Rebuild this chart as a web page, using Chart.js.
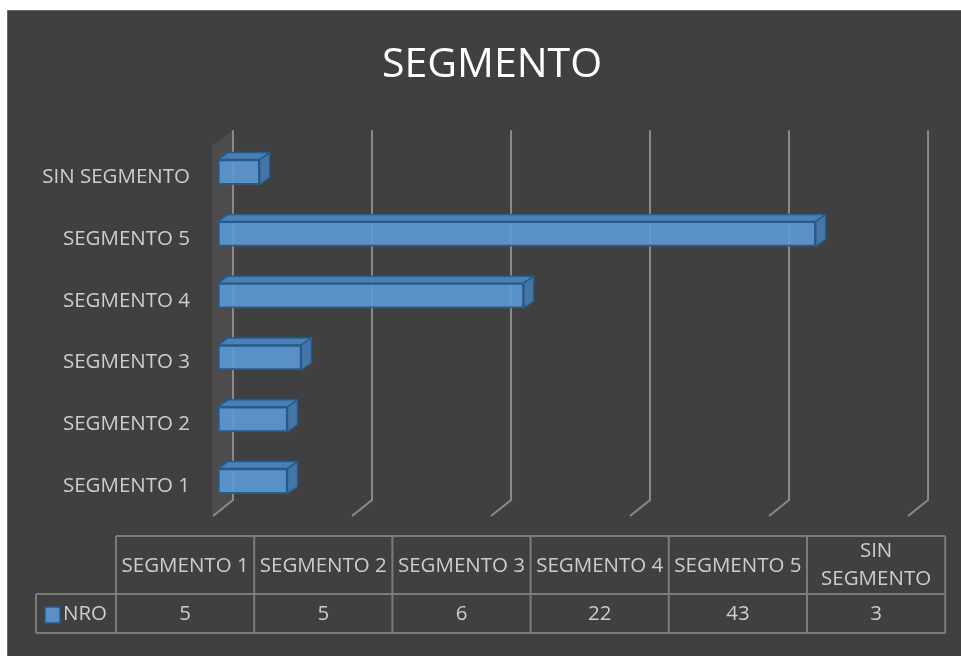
<!DOCTYPE html>
<html>
<head>
<meta charset="utf-8">
<script src="https://cdn.jsdelivr.net/npm/chart.js@4.4.1/dist/chart.umd.min.js"></script>
<style>
  html, body { margin: 0; padding: 0; background: #ffffff; }
</style>
</head>
<body>
<canvas id="segmentoChart" width="961" height="656"></canvas>
<script>
// Datos del gráfico
const categorias = ['SEGMENTO 1', 'SEGMENTO 2', 'SEGMENTO 3', 'SEGMENTO 4', 'SEGMENTO 5', 'SIN SEGMENTO'];
const valoresNro = [5, 5, 6, 22, 43, 3];
const marcasEje = [0, 10, 20, 30, 40, 50];
const nombreSerie = 'NRO';

const fuente = '"Open Sans", "Noto Sans", sans-serif';
const colorTexto = '#cdcdcd';
const azulFrente = 'rgba(92, 153, 212, 0.9)';
const azulBorde = '#285a8a';

// Fondo gris oscuro del área del gráfico
const fondoPlugin = {
  id: 'fondo',
  beforeDraw(chart) {
    const { ctx, width, height } = chart;
    ctx.save();
    ctx.fillStyle = '#ffffff';
    ctx.fillRect(0, 0, width, height);
    ctx.fillStyle = '#404040';
    ctx.fillRect(7, 10, width - 7, height - 10);
    ctx.strokeStyle = '#6a6a6a';
    ctx.lineWidth = 1;
    ctx.beginPath();
    ctx.moveTo(7.5, height);
    ctx.lineTo(7.5, 10.5);
    ctx.lineTo(width, 10.5);
    ctx.stroke();
    ctx.restore();
  }
};

// Pared lateral y líneas de cuadrícula en perspectiva
const paredPlugin = {
  id: 'pared3d',
  beforeDatasetsDraw(chart) {
    const { ctx } = chart;
    const { top, bottom } = chart.chartArea;
    const xs = chart.scales.x;
    const p0 = xs.getPixelForValue(0);
    ctx.save();
    ctx.fillStyle = '#4d4b4b';
    ctx.beginPath();
    ctx.moveTo(p0 - 6, top + 4);
    ctx.lineTo(p0 + 15, top - 11);
    ctx.lineTo(p0 + 15, bottom - 12);
    ctx.lineTo(p0 - 6, bottom + 4);
    ctx.closePath();
    ctx.fill();

    ctx.strokeStyle = '#8a8a8a';
    ctx.lineWidth = 2;
    marcasEje.forEach(v => {
      const p = xs.getPixelForValue(v);
      ctx.beginPath();
      ctx.moveTo(p + 15, top - 11);
      ctx.lineTo(p + 15, bottom - 12);
      ctx.lineTo(p - 5, bottom + 4);
      ctx.stroke();
    });
    ctx.restore();
  }
};

// Caras superior y derecha de cada barra (efecto 3D)
const barras3dPlugin = {
  id: 'barras3d',
  afterDatasetsDraw(chart) {
    const { ctx } = chart;
    const meta = chart.getDatasetMeta(0);
    const dx = 10, dy = -7;
    ctx.save();
    ctx.strokeStyle = azulBorde;
    ctx.lineWidth = 1.5;
    ctx.lineJoin = 'round';
    meta.data.forEach(bar => {
      const { x, y, base, height } = bar.getProps(['x', 'y', 'base', 'height'], true);
      const t = y - height / 2;
      const b = y + height / 2;
      // cara superior
      ctx.fillStyle = '#4b80b5';
      ctx.beginPath();
      ctx.moveTo(base, t);
      ctx.lineTo(base + dx, t + dy);
      ctx.lineTo(x + dx, t + dy);
      ctx.lineTo(x, t);
      ctx.closePath();
      ctx.fill();
      ctx.stroke();
      // cara derecha
      ctx.fillStyle = '#4676a7';
      ctx.beginPath();
      ctx.moveTo(x, t);
      ctx.lineTo(x + dx, t + dy);
      ctx.lineTo(x + dx, b + dy);
      ctx.lineTo(x, b);
      ctx.closePath();
      ctx.fill();
      ctx.stroke();
    });
    ctx.restore();
  }
};

// Tabla de datos debajo del gráfico
const tablaPlugin = {
  id: 'tablaDatos',
  afterDraw(chart) {
    const { ctx } = chart;
    const izq = 36, inicio = 116, ancho = 138.2;
    const yTop = 536, yMedio = 594, yBase = 633;
    const fin = inicio + ancho * categorias.length;
    ctx.save();
    ctx.strokeStyle = '#7c7c7c';
    ctx.lineWidth = 2;
    ctx.beginPath();
    ctx.moveTo(inicio, yTop); ctx.lineTo(fin, yTop);
    ctx.moveTo(izq, yMedio); ctx.lineTo(fin, yMedio);
    ctx.moveTo(izq, yBase); ctx.lineTo(fin, yBase);
    ctx.moveTo(izq, yMedio); ctx.lineTo(izq, yBase);
    for (let i = 0; i <= categorias.length; i++) {
      const x = inicio + ancho * i;
      ctx.moveTo(x, yTop); ctx.lineTo(x, yBase);
    }
    ctx.stroke();

    ctx.fillStyle = colorTexto;
    ctx.font = '20.5px ' + fuente;
    ctx.textAlign = 'center';
    ctx.textBaseline = 'middle';
    categorias.forEach((cat, i) => {
      const cx = inicio + ancho * (i + 0.5);
      if (ctx.measureText(cat).width > ancho - 4) {
        const partes = cat.split(' ');
        ctx.fillText(partes[0], cx, 551);
        ctx.fillText(partes.slice(1).join(' '), cx, 579);
      } else {
        ctx.fillText(cat, cx, 566);
      }
      ctx.fillText(String(valoresNro[i]), cx, 614);
    });

    // clave de la serie
    ctx.fillStyle = azulFrente;
    ctx.fillRect(45, 607, 15, 16);
    ctx.strokeStyle = azulBorde;
    ctx.lineWidth = 1.5;
    ctx.strokeRect(45, 607, 15, 16);
    ctx.fillStyle = colorTexto;
    ctx.textAlign = 'left';
    ctx.fillText(nombreSerie, 63, 614);
    ctx.restore();
  }
};

new Chart(document.getElementById('segmentoChart'), {
  type: 'bar',
  data: {
    labels: categorias,
    datasets: [{
      label: nombreSerie,
      data: valoresNro,
      backgroundColor: azulFrente,
      borderColor: azulBorde,
      borderWidth: 2,
      borderSkipped: false,
      barThickness: 25
    }]
  },
  options: {
    indexAxis: 'y',
    responsive: false,
    animation: false,
    layout: {
      padding: { top: 10, left: 23, right: 0, bottom: 144 }
    },
    plugins: {
      legend: { display: false },
      tooltip: { enabled: false },
      title: {
        display: true,
        text: 'SEGMENTO',
        color: '#ffffff',
        font: { family: fuente, size: 41, weight: 'normal', lineHeight: 1.2 },
        padding: { top: 31, bottom: 51 }
      }
    },
    scales: {
      x: {
        display: false,
        min: 0,
        max: 53.45
      },
      y: {
        reverse: true,
        afterFit(scale) { scale.width = 195; },
        grid: { display: false, drawTicks: false },
        border: { display: false },
        ticks: {
          color: colorTexto,
          padding: 28,
          labelOffset: 5,
          font: { family: fuente, size: 20.5 }
        }
      }
    }
  },
  plugins: [fondoPlugin, paredPlugin, barras3dPlugin, tablaPlugin]
});
</script>
</body>
</html>
